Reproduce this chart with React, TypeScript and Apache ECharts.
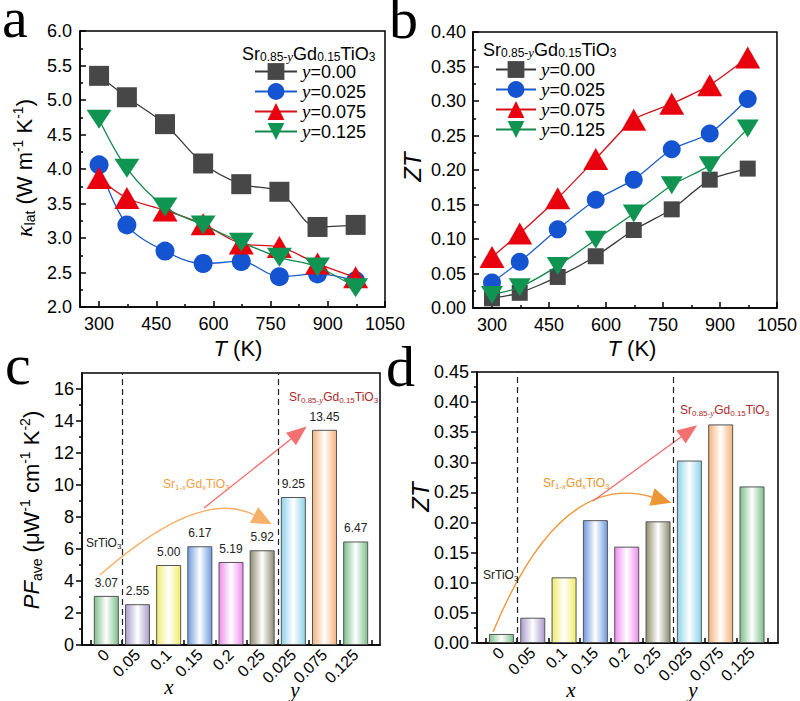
import React, { useEffect, useRef } from 'react';
import * as echarts from 'echarts';

// ---- temperature-dependent data (panels a, b) ----
const temps = [300, 373, 473, 573, 673, 773, 873, 973];
const seriesNames = ['y=0.00', 'y=0.025', 'y=0.075', 'y=0.125'];

const kLatY000 = [5.35, 5.04, 4.65, 4.08, 3.78, 3.67, 3.16, 3.19];
const kLatY025 = [4.06, 3.19, 2.81, 2.63, 2.66, 2.44, 2.48, 2.38];
const kLatY075 = [3.87, 3.58, 3.40, 3.20, 2.92, 2.87, 2.63, 2.43];
const kLatY125 = [4.72, 4.01, 3.45, 3.19, 2.94, 2.72, 2.58, 2.28];

const ztY000 = [0.014, 0.022, 0.045, 0.075, 0.113, 0.143, 0.186, 0.202];
const ztY025 = [0.037, 0.067, 0.114, 0.157, 0.186, 0.230, 0.253, 0.303];
const ztY075 = [0.074, 0.108, 0.159, 0.216, 0.273, 0.296, 0.323, 0.363];
const ztY125 = [0.019, 0.030, 0.061, 0.099, 0.137, 0.178, 0.207, 0.260];

// ---- composition data (panels c, d) ----
const compositions = ['0', '0.05', '0.1', '0.15', '0.2', '0.25', '0.025', '0.075', '0.125'];
const pfAve = [3.07, 2.55, 5.0, 6.17, 5.19, 5.92, 9.25, 13.45, 6.47];
const ztPeak = [0.015, 0.042, 0.109, 0.204, 0.16, 0.202, 0.303, 0.363, 0.26];

// ---- tick values ----
const tempTicks = [300, 450, 600, 750, 900, 1050];
const tempMinorTicks = [375, 525, 675, 825, 975];
const pfTicks = [0, 2, 4, 6, 8, 10, 12, 14, 16];
const pfMinorTicks = [1, 3, 5, 7, 9, 11, 13, 15];
const barIndexTicks = [0, 1, 2, 3, 4, 5, 6, 7, 8];
const barBoundaryTicks = [-0.5, 0.5, 1.5, 2.5, 3.5, 4.5, 5.5, 6.5, 7.5, 8.5];
const groupDividers = [0.5, 5.5];

// bar edge colours (fade to white in the middle)
const barColors = ['#7cc08c', '#a99ccb', '#f0ec6a', '#6e9ae0', '#ee8cee', '#8e8d70', '#8dd2ea', '#f4b27a', '#7cc08c'];

const sans = '"Liberation Sans", Arial, Helvetica, sans-serif';
const serif = '"Liberation Serif", "Times New Roman", serif';

const markerColors = ['#474747', '#1554d0', '#e8000e', '#0f9452'];
const lineColors = ['#3a3a3a', '#1a5cc8', '#d41018', '#11884a'];
const downTri = 'path://M0,0 L10,0 L5,9 Z';

const blackLine = { color: '#000', width: 1.5 };

function arrowHead(base: number[], dirFrom: number[], len: number, half: number) {
  const dx = base[0] - dirFrom[0];
  const dy = base[1] - dirFrom[1];
  const d = Math.hypot(dx, dy);
  const ux = dx / d;
  const uy = dy / d;
  const tip = [base[0] + ux * len, base[1] + uy * len];
  return [tip, [base[0] - uy * half, base[1] + ux * half], [base[0] + uy * half, base[1] - ux * half]];
}

function formulaRich(fs: number, color: string) {
  const sub = Math.round(fs * 0.64);
  return {
    s: { fontSize: sub, fontFamily: sans, fill: color, verticalAlign: 'bottom', lineHeight: sub },
    si: { fontSize: sub + 1, fontFamily: serif, fontStyle: 'italic', fill: color, verticalAlign: 'bottom', lineHeight: sub },
    p: { fontSize: sub, fontFamily: sans, fill: color, verticalAlign: 'top', lineHeight: sub },
    i: { fontSize: fs, fontFamily: sans, fontStyle: 'italic', fill: color, lineHeight: fs * 1.2 },
    k: { fontSize: fs + 2, fontFamily: serif, fontStyle: 'italic', fill: color, lineHeight: fs * 1.2 },
  };
}

function richText(x: number, y: number, text: string, fs: number, color: string, align = 'left', rotation = 0, lh = 1.2) {
  return {
    type: 'text',
    x,
    y,
    rotation,
    style: {
      text,
      fontSize: fs,
      fontFamily: sans,
      fill: color,
      lineHeight: fs * lh,
      align,
      verticalAlign: 'middle',
      rich: formulaRich(fs, color),
    },
  };
}

function letter(x: number, y: number, ch: string) {
  return {
    type: 'text',
    x,
    y,
    style: {
      text: ch,
      fontSize: 58,
      lineHeight: 30,
      fontFamily: serif,
      fill: '#000',
      align: 'left',
      verticalAlign: 'middle',
    },
  };
}

function italicSerif(x: number, y: number, ch: string) {
  return {
    type: 'text',
    x,
    y,
    style: { text: ch, fontSize: 21, fontFamily: serif, fontStyle: 'italic', fill: '#000', align: 'center', verticalAlign: 'middle' },
  };
}

function annotations(
  orangeStart: number[], orangeCtrl: number[], orangeEnd: number[], orangeColor: string,
  redStart: number[], redEnd: number[],
) {
  const redHead = arrowHead(redEnd, redStart, 20, 8);
  const orHead = arrowHead(orangeEnd, orangeCtrl, 20, 9);
  return [
    {
      type: 'bezierCurve',
      shape: { x1: orangeStart[0], y1: orangeStart[1], x2: orangeEnd[0], y2: orangeEnd[1], cpx1: orangeCtrl[0], cpy1: orangeCtrl[1] },
      style: { stroke: orangeColor, lineWidth: 1.4, fill: null },
    },
    { type: 'polygon', shape: { points: orHead }, style: { fill: orangeColor } },
    {
      type: 'line',
      shape: { x1: redStart[0], y1: redStart[1], x2: redEnd[0], y2: redEnd[1] },
      style: { stroke: '#f06a6a', lineWidth: 1.3 },
    },
    { type: 'polygon', shape: { points: redHead }, style: { fill: '#f27070' } },
  ];
}

function lineSeries(name: string, idx: number, values: number[], xAxisIndex: number, yAxisIndex: number, sizes: any[], smooth: number) {
  const symbols = ['rect', 'circle', 'triangle', downTri];
  return {
    type: 'line',
    name,
    xAxisIndex,
    yAxisIndex,
    data: temps.map((t, i) => [t, values[i]]),
    symbol: symbols[idx],
    symbolSize: sizes[idx],
    smooth,
    showAllSymbol: true,
    lineStyle: { color: lineColors[idx], width: 1.3 },
    itemStyle: { color: markerColors[idx], borderWidth: 0 },
    z: 2 + idx,
  };
}

function barSeries(values: number[], xAxisIndex: number, yAxisIndex: number, withLabels: boolean) {
  return {
    type: 'bar',
    xAxisIndex,
    yAxisIndex,
    barWidth: 25,
    data: values.map((v, i) => ({
      value: [i, v],
      itemStyle: {
        color: new echarts.graphic.LinearGradient(0, 0, 1, 0, [
          { offset: 0, color: barColors[i] },
          { offset: 0.5, color: '#ffffff' },
          { offset: 1, color: barColors[i] },
        ]),
        borderColor: '#555',
        borderWidth: 1,
      },
    })),
    label: {
      show: withLabels,
      position: 'top',
      distance: 7,
      fontSize: 12,
      fontFamily: sans,
      color: '#222',
      formatter: (p: any) => Number(p.value[1]).toFixed(2),
    },
    markLine: {
      silent: true,
      symbol: 'none',
      label: { show: false },
      lineStyle: { color: '#222', type: [6, 4], width: 1.2 },
      data: groupDividers.map((x) => ({ xAxis: x })),
    },
  };
}

const tickLabel = { color: '#000', fontSize: 18, fontFamily: sans };

function tempAxis(gridIndex: number) {
  return [
    {
      gridIndex,
      type: 'value',
      min: 250,
      max: 1050,
      position: 'bottom',
      axisLine: { show: true, onZero: false, lineStyle: blackLine },
      axisTick: { show: true, inside: true, length: 6, customValues: tempTicks, lineStyle: blackLine },
      axisLabel: { customValues: tempTicks, margin: 8, formatter: (v: number) => String(v), ...tickLabel },
      splitLine: { show: false },
    },
    {
      gridIndex,
      type: 'value',
      min: 250,
      max: 1050,
      position: 'bottom',
      axisLine: { show: false, onZero: false },
      axisLabel: { show: false },
      splitLine: { show: false },
      axisTick: { show: true, inside: true, length: 3, customValues: tempMinorTicks, lineStyle: blackLine },
    },
  ];
}

function compAxis(gridIndex: number, max: number) {
  return {
    gridIndex,
    type: 'value',
    min: -0.78,
    max,
    position: 'bottom',
    axisLine: { show: true, onZero: false, lineStyle: blackLine },
    axisTick: { show: true, inside: true, length: 5, customValues: barBoundaryTicks, lineStyle: blackLine },
    axisLabel: {
      customValues: barIndexTicks,
      rotate: 45,
      margin: 7,
      color: '#000',
      fontSize: 16,
      fontFamily: sans,
      formatter: (v: number) => compositions[Math.round(v)],
    },
    splitLine: { show: false },
  };
}

const gridBox = { show: true, borderColor: '#000', borderWidth: 1.5, backgroundColor: 'transparent' };

function buildOption() {
  const legendText = {
    fontSize: 18,
    lineHeight: 18,
    fontFamily: sans,
    color: '#000',
    rich: { i: { fontSize: 19, lineHeight: 18, fontFamily: serif, fontStyle: 'italic', color: '#000' } },
  };
  const legendFormatter = (name: string) => name.replace('y', '{i|y}');

  const sizesA = [20, 19, [25, 22], [25, 19]];
  const sizesB = [16, 18, [25, 22], [22, 18]];
  const kLat = [kLatY000, kLatY025, kLatY075, kLatY125];
  const zt = [ztY000, ztY025, ztY075, ztY125];

  const formula = 'Sr{s|0.85-}{si|y}Gd{s|0.15}TiO{s|3}';
  const formulaX = 'Sr{s|1-}{si|x}Gd{si|x}TiO{s|3}';

  return {
    animation: false,
    backgroundColor: '#ffffff',
    grid: [
      { left: 80, top: 31, width: 305, height: 276, ...gridBox },
      { left: 473, top: 32, width: 305, height: 276, ...gridBox },
      { left: 82, top: 373, width: 298, height: 272, ...gridBox },
      { left: 477, top: 372, width: 301, height: 271, ...gridBox },
    ],
    xAxis: [...tempAxis(0), ...tempAxis(1), compAxis(2, 8.78), compAxis(3, 8.83)],
    yAxis: [
      {
        gridIndex: 0,
        type: 'value',
        min: 2,
        max: 6,
        interval: 0.5,
        axisLine: { show: true, onZero: false, lineStyle: blackLine },
        axisTick: { show: true, inside: true, length: 6, lineStyle: blackLine },
        minorTick: { show: true, splitNumber: 2, length: 3, lineStyle: blackLine },
        axisLabel: { margin: 8, formatter: (v: number) => v.toFixed(1), ...tickLabel },
        splitLine: { show: false },
        minorSplitLine: { show: false },
      },
      {
        gridIndex: 1,
        type: 'value',
        min: 0,
        max: 0.4,
        interval: 0.05,
        axisLine: { show: true, onZero: false, lineStyle: blackLine },
        axisTick: { show: true, inside: true, length: 6, lineStyle: blackLine },
        minorTick: { show: true, splitNumber: 2, length: 3, lineStyle: blackLine },
        axisLabel: { margin: 7, formatter: (v: number) => v.toFixed(2), ...tickLabel },
        splitLine: { show: false },
        minorSplitLine: { show: false },
      },
      {
        gridIndex: 2,
        type: 'value',
        min: 0,
        max: 17,
        axisLine: { show: true, onZero: false, lineStyle: blackLine },
        axisTick: { show: true, inside: false, length: 6, customValues: pfTicks, lineStyle: blackLine },
        axisLabel: { margin: 8, customValues: pfTicks, ...tickLabel },
        splitLine: { show: false },
      },
      {
        gridIndex: 2,
        type: 'value',
        min: 0,
        max: 17,
        position: 'left',
        axisLine: { show: false, onZero: false },
        axisLabel: { show: false },
        splitLine: { show: false },
        axisTick: { show: true, inside: false, length: 3, customValues: pfMinorTicks, lineStyle: blackLine },
      },
      {
        gridIndex: 3,
        type: 'value',
        min: 0,
        max: 0.45,
        interval: 0.05,
        axisLine: { show: true, onZero: false, lineStyle: blackLine },
        axisTick: { show: true, inside: false, length: 6, lineStyle: blackLine },
        minorTick: { show: true, splitNumber: 2, length: 3, lineStyle: blackLine },
        axisLabel: { margin: 8, formatter: (v: number) => v.toFixed(2), ...tickLabel },
        splitLine: { show: false },
        minorSplitLine: { show: false },
      },
    ],
    legend: [
      {
        orient: 'vertical',
        left: 254,
        top: 62,
        itemWidth: 42,
        itemHeight: 21,
        itemGap: 1,
        padding: 0,
        data: seriesNames,
        textStyle: legendText,
        formatter: legendFormatter,
        selectedMode: false,
      },
      {
        orient: 'vertical',
        left: 495,
        top: 60,
        itemWidth: 40,
        itemHeight: 21,
        itemGap: 1,
        padding: 0,
        data: seriesNames,
        textStyle: legendText,
        formatter: legendFormatter,
        selectedMode: false,
      },
    ],
    series: [
      ...seriesNames.map((n, i) => lineSeries(n, i, kLat[i], 0, 0, sizesA, 0.35)),
      ...seriesNames.map((n, i) => lineSeries(n, i, zt[i], 2, 1, sizesB, 0.2)),
      barSeries(pfAve, 4, 2, true),
      barSeries(ztPeak, 5, 4, false),
    ],
    graphic: {
      elements: [
        letter(2, 17, 'a'),
        letter(389, 18, 'b'),
        letter(5, 364, 'c'),
        letter(386, 366, 'd'),

        // axis titles
        richText(238, 348, '{i|T} (K)', 22, '#000', 'center'),
        richText(632, 348, '{i|T} (K)', 22, '#000', 'center'),
        richText(24, 168, '{k|κ}{s|lat} (W m{p|-1} K{p|-1})', 22, '#000', 'center', Math.PI / 2),
        richText(31, 510, '{i|PF}{s|ave} (μW{p|-1} cm{p|-1} K{p|-2})', 22, '#000', 'center', Math.PI / 2),
        richText(412, 167, '{i|ZT}', 24, '#000', 'center', Math.PI / 2),
        richText(420, 497, '{i|ZT}', 24, '#000', 'center', Math.PI / 2),
        italicSerif(169, 687, 'x'),
        italicSerif(295, 690, 'y'),
        italicSerif(571, 690, 'x'),
        italicSerif(693, 690, 'y'),

        // legend headings
        richText(242, 54, formula, 18, '#000', 'left', 0, 1),
        richText(483, 50, formula, 18, '#000', 'left', 0, 1),

        // panel c notes
        ...annotations([100, 575], [200, 487], [254, 515], '#f5b06a', [204, 508], [291, 439]),
        richText(86, 543, 'SrTiO{s|3}', 12, '#222', 'left'),
        richText(163, 484, formulaX, 12, '#f0a040', 'left'),
        richText(289, 397, formula, 12, '#a8282c', 'left'),

        // panel d notes
        ...annotations([493, 632], [560, 470], [652, 497], '#ec9636', [593, 501], [681, 437]),
        richText(483, 575, 'SrTiO{s|3}', 12, '#222', 'left'),
        richText(543, 483, formulaX, 12, '#e8952e', 'left'),
        richText(680, 410, formula, 12, '#a8282c', 'left'),
      ],
    },
  };
}

export default function App() {
  const ref = useRef<HTMLDivElement>(null);
  useEffect(() => {
    document.body.style.margin = '0';
    if (!ref.current) return;
    const chart = echarts.init(ref.current, undefined, { renderer: 'svg' });
    chart.setOption(buildOption() as any);
    return () => chart.dispose();
  }, []);
  return <div ref={ref} style={{ width: 800, height: 701, background: '#fff' }} />;
}
